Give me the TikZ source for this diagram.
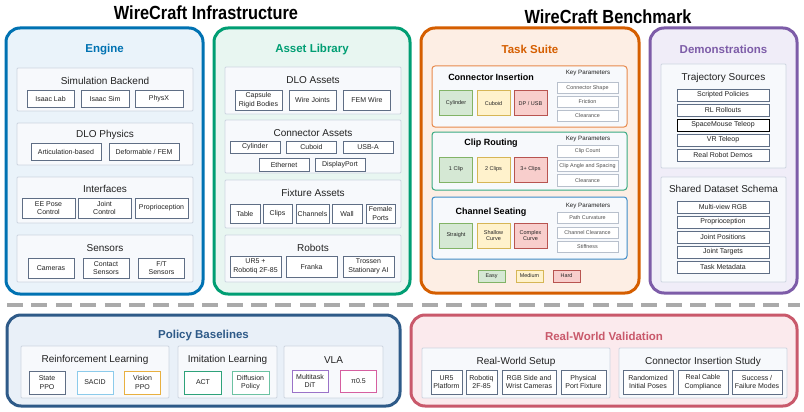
\documentclass[tikz,border=0pt]{standalone}
\usepackage{fontspec}
\setmainfont{Liberation Sans}
\usepackage{graphicx}
\usepackage{xcolor}
\usepackage{tikz}
\definecolor{engblue}{RGB}{0,114,178}
\definecolor{engfill}{RGB}{234,243,250}
\definecolor{assetgreen}{RGB}{0,158,115}
\definecolor{assetfill}{RGB}{232,246,241}
\definecolor{taskorange}{RGB}{213,94,0}
\definecolor{taskfill}{RGB}{253,238,228}
\definecolor{demopurple}{RGB}{125,92,168}
\definecolor{demofill}{RGB}{240,237,248}
\definecolor{policyblue}{RGB}{46,90,136}
\definecolor{policyfill}{RGB}{233,240,248}
\definecolor{realred}{RGB}{201,89,107}
\definecolor{realfill}{RGB}{251,234,237}
\definecolor{groupline}{RGB}{205,213,224}
\definecolor{groupfill}{RGB}{247,249,252}
\definecolor{itemline}{RGB}{95,110,133}
\definecolor{keyline}{RGB}{184,192,204}
\definecolor{insline}{RGB}{232,138,76}
\definecolor{clipline}{RGB}{58,170,130}
\definecolor{chanline}{RGB}{61,140,200}
\definecolor{easyfill}{RGB}{213,232,212}
\definecolor{easyline}{RGB}{130,179,102}
\definecolor{medfill}{RGB}{255,242,204}
\definecolor{medline}{RGB}{214,182,86}
\definecolor{hardfill}{RGB}{248,206,204}
\definecolor{hardline}{RGB}{184,84,80}
\definecolor{sacblue}{RGB}{140,203,235}
\definecolor{visorange}{RGB}{232,176,64}
\definecolor{actgreen}{RGB}{46,162,122}
\definecolor{diffgreen}{RGB}{108,194,162}
\definecolor{ditpurple}{RGB}{155,114,200}
\definecolor{pipink}{RGB}{214,95,160}
\definecolor{sepgray}{RGB}{170,170,170}
\definecolor{txt}{RGB}{34,34,34}
\tikzset{maintitle/.style={font=\fontsize{19}{22}\selectfont\bfseries, text=black}, panel/.style={rectangle, rounded corners=14pt, line width=3pt}, ptitle/.style={font=\fontsize{11.5}{13}\selectfont\bfseries}, group/.style={rectangle, rounded corners=1pt, draw=groupline, fill=groupfill, line width=0.8pt}, glabel/.style={font=\fontsize{10}{12}\selectfont, text=txt}, item/.style={rectangle, draw=itemline, fill=white, line width=0.9pt, align=center, inner sep=0pt, font=\fontsize{7}{8.4}\selectfont, text=txt}, tsub/.style={rectangle, rounded corners=3pt, fill=groupfill, line width=1pt}, tname/.style={font=\fontsize{9}{11}\selectfont\bfseries, text=black}, kplabel/.style={font=\fontsize{6.2}{7}\selectfont, text=txt}, kbox/.style={rectangle, draw=keyline, fill=white, line width=0.7pt, minimum width=61pt, minimum height=11.5pt, inner sep=0pt, font=\fontsize{5.4}{6}\selectfont, text=txt!80}, diff/.style={rectangle, line width=1pt, minimum width=33pt, minimum height=25pt, inner sep=0pt, align=center, font=\fontsize{5.5}{6.6}\selectfont, text=txt}, easy/.style={diff, fill=easyfill, draw=easyline}, medium/.style={diff, fill=medfill, draw=medline}, hard/.style={diff, fill=hardfill, draw=hardline}, legendbox/.style={rectangle, line width=0.8pt, minimum width=27pt, minimum height=12pt, inner sep=0pt, font=\fontsize{5.4}{6}\selectfont, text=txt}, sepline/.style={draw=sepgray, line width=3.5pt, dash pattern=on 16pt off 8.4pt}}

\begin{document}
\begin{tikzpicture}[x=1pt, y=-1pt]
\useasboundingbox (0,0) rectangle (804,412);
\node[maintitle] (infra-t) at (206,13) {\scalebox{0.86}[1]{WireCraft Infrastructure}};
\node[maintitle] (bench-t) at (608,17) {\scalebox{0.86}[1]{WireCraft Benchmark}};

\node[panel, draw=engblue, fill=engfill, minimum width=197pt, minimum height=266pt] (engine) at (104.5,161) {};
\node[ptitle, text=engblue] (engine-t) at (104.5,50) {Engine};
\node[group, minimum width=176pt, minimum height=43pt] (eng-sb) at (105,89.5) {};
\node[glabel] (eng-sb-l) at (105,81) {Simulation Backend};
\foreach \x/\w/\name [count=\i] in {50.5/47/{Isaac Lab},105/48/{Isaac Sim},159/48/PhysX} {\node[item, minimum width=\w pt, minimum height=17pt] (eng-sb-\i) at (\x,98.5) {\name};}
\node[group, minimum width=176pt, minimum height=42pt] (eng-dlo) at (105,144) {};
\node[glabel] (eng-dlo-l) at (105,135) {DLO Physics};
\foreach \x/\name [count=\i] in {66/{Articulation-based},144/{Deformable / FEM}} {\node[item, minimum width=70pt, minimum height=17pt] (eng-dlo-\i) at (\x,151.5) {\name};}
\node[group, minimum width=176pt, minimum height=46pt] (eng-if) at (105,200) {};
\node[glabel] (eng-if-l) at (105,189) {Interfaces};
\foreach \x/\name [count=\i] in {48.5/{EE Pose\\Control},104.5/{Joint\\Control},161.5/Proprioception} {\node[item, minimum width=53pt, minimum height=20pt] (eng-if-\i) at (\x,208) {\name};}
\node[group, minimum width=176pt, minimum height=47pt] (eng-sen) at (105,258.5) {};
\node[glabel] (eng-sen-l) at (105,248) {Sensors};
\foreach \x/\name [count=\i] in {51/Cameras,106/{Contact\\Sensors},161.5/{F/T\\Sensors}} {\node[item, minimum width=46pt, minimum height=20pt] (eng-sen-\i) at (\x,268) {\name};}

\node[panel, draw=assetgreen, fill=assetfill, minimum width=196pt, minimum height=266pt] (assets) at (312,161) {};
\node[ptitle, text=assetgreen] (assets-t) at (312,50) {Asset Library};
\node[group, minimum width=176pt, minimum height=47pt] (ast-dlo) at (313,90.5) {};
\node[glabel] (ast-dlo-l) at (313,80) {DLO Assets};
\foreach \x/\name [count=\i] in {258.5/{Capsule\\Rigid Bodies},312.5/{Wire Joints},367/{FEM Wire}} {\node[item, minimum width=47pt, minimum height=20pt] (ast-dlo-\i) at (\x,100) {\name};}
\node[group, minimum width=176pt, minimum height=53pt] (ast-con) at (313,146.5) {};
\node[glabel] (ast-con-l) at (313,133) {Connector Assets};
\foreach \x/\name [count=\i] in {255/Cylinder,311.5/Cuboid,368/USB-A} {\node[item, minimum width=50pt, minimum height=12pt] (ast-con-\i) at (\x,147) {\name};}
\foreach \x/\name [count=\i] in {284/Ethernet,340/DisplayPort} {\node[item, minimum width=50pt, minimum height=13pt] (ast-con-b\i) at (\x,164.5) {\name};}
\node[group, minimum width=176pt, minimum height=48pt] (ast-fix) at (313,204) {};
\node[glabel] (ast-fix-l) at (313,193) {Fixture Assets};
\foreach \x/\w/\name [count=\i] in {245/30/Table,277.5/29/Clips,312.5/33/Channels,347/30/Wall,380.5/29/{Female\\Ports}} {\node[item, minimum width=\w pt, minimum height=19pt] (ast-fix-\i) at (\x,213.5) {\name};}
\node[group, minimum width=176pt, minimum height=47pt] (ast-rob) at (313,258.5) {};
\node[glabel] (ast-rob-l) at (313,248) {Robots};
\foreach \x/\name [count=\i] in {255.5/{UR5 +\\Robotiq 2F-85},311.5/Franka,368.5/{Trossen\\Stationary AI}} {\node[item, minimum width=51pt, minimum height=21pt] (ast-rob-\i) at (\x,266.5) {\name};}

\node[panel, draw=taskorange, fill=taskfill, minimum width=218pt, minimum height=265pt] (tasks) at (530,160.5) {};
\node[ptitle, text=taskorange] (tasks-t) at (530,49) {Task Suite};
\node[tsub, draw=insline, minimum width=195pt, minimum height=61pt] (ins) at (529.5,96.5) {};
\node[tname] (ins-t) at (491,77) {Connector Insertion};
\node[kplabel] (ins-k) at (588,73) {Key Parameters};
\foreach \y/\name [count=\i] in {88/{Connector Shape},102/Friction,116/Clearance} {\node[kbox] (ins-k\i) at (587.5,\y) {\name};}
\node[easy] (ins-e) at (456,103.5) {Cylinder};
\node[medium] (ins-m) at (493.5,103.5) {Cuboid};
\node[hard] (ins-h) at (530.5,103.5) {DP / USB};
\node[tsub, draw=clipline, minimum width=195pt, minimum height=58pt] (clip) at (529.5,161) {};
\node[tname] (clip-t) at (491,143) {Clip Routing};
\node[kplabel] (clip-k) at (588,139) {Key Parameters};
\foreach \y/\name [count=\i] in {151.5/{Clip Count},166/{Clip Angle and Spacing},180.5/Clearance} {\node[kbox] (clip-k\i) at (587.5,\y) {\name};}
\node[easy] (clip-e) at (456,169.5) {1 Clip};
\node[medium] (clip-m) at (493.5,169.5) {2 Clips};
\node[hard] (clip-h) at (530.5,169.5) {3+ Clips};
\node[tsub, draw=chanline, minimum width=195pt, minimum height=62pt] (chan) at (529.5,228) {};
\node[tname] (chan-t) at (491,212) {Channel Seating};
\node[kplabel] (chan-k) at (588,206) {Key Parameters};
\foreach \y/\name [count=\i] in {218/{Path Curvature},233/{Channel Clearance},247/Stiffness} {\node[kbox] (chan-k\i) at (587.5,\y) {\name};}
\node[easy] (chan-e) at (456,235.5) {Straight};
\node[medium] (chan-m) at (493.5,235.5) {Shallow\\Curve};
\node[hard] (chan-h) at (530.5,235.5) {Complex\\Curve};
\node[legendbox, fill=easyfill, draw=easyline] (leg-e) at (491.5,276) {Easy};
\node[legendbox, fill=medfill, draw=medline] (leg-m) at (529.5,276) {Medium};
\node[legendbox, fill=hardfill, draw=hardline] (leg-h) at (566.5,276) {Hard};

\node[panel, draw=demopurple, fill=demofill, minimum width=147pt, minimum height=265pt] (demos) at (723.5,160.5) {};
\node[ptitle, text=demopurple] (demos-t) at (723.5,49) {Demonstrations};
\node[group, minimum width=125pt, minimum height=104pt] (dem-src) at (723.5,116) {};
\node[glabel] (dem-src-l) at (723.5,78) {Trajectory Sources};
\foreach \name/\c [count=\i] in {{Scripted Policies}/itemline,{RL Rollouts}/itemline,{SpaceMouse Teleop}/black,{VR Teleop}/itemline,{Real Robot Demos}/itemline} {\node[item, draw=\c, minimum width=92pt, minimum height=12pt] (dem-src-\i) at (723,80+15*\i) {\name};}
\node[group, minimum width=125pt, minimum height=105pt] (dem-sch) at (723.5,229.5) {};
\node[glabel] (dem-sch-l) at (723.5,189) {Shared Dataset Schema};
\foreach \name [count=\i] in {{Multi-view RGB},Proprioception,{Joint Positions},{Joint Targets},{Task Metadata}} {\node[item, minimum width=92pt, minimum height=12pt] (dem-sch-\i) at (723,192+15*\i) {\name};}

\draw[sepline] (7,305) -- (800,305);

\node[panel, draw=policyblue, fill=policyfill, minimum width=393pt, minimum height=91pt] (policy) at (203.5,360.5) {};
\node[ptitle, text=policyblue] (policy-t) at (203.5,336) {Policy Baselines};
\node[group, minimum width=148pt, minimum height=52pt] (pol-rl) at (95,372) {};
\node[glabel] (pol-rl-l) at (95,360) {Reinforcement Learning};
\foreach \x/\c/\name [count=\i] in {47/itemline/{State\\PPO},95/sacblue/SACID,142.5/visorange/{Vision\\PPO}} {\node[item, draw=\c, minimum width=36pt, minimum height=23pt] (pol-rl-\i) at (\x,382.5) {\name};}
\node[group, minimum width=99pt, minimum height=52pt] (pol-il) at (227.5,372) {};
\node[glabel] (pol-il-l) at (227.5,360) {Imitation Learning};
\foreach \x/\c/\name [count=\i] in {203/actgreen/ACT,250.5/diffgreen/{Diffusion\\Policy}} {\node[item, draw=\c, minimum width=37pt, minimum height=23pt] (pol-il-\i) at (\x,382.5) {\name};}
\node[group, minimum width=99pt, minimum height=52pt] (pol-vla) at (333.5,372) {};
\node[glabel] (pol-vla-l) at (333.5,360) {VLA};
\foreach \x/\c/\name [count=\i] in {310/ditpurple/{Multitask\\DiT},358.5/pipink/{π0.5}} {\node[item, draw=\c, minimum width=36pt, minimum height=22pt] (pol-vla-\i) at (\x,381) {\name};}

\node[panel, draw=realred, fill=realfill, minimum width=386pt, minimum height=91pt] (real) at (604,360.5) {};
\node[ptitle, text=realred] (real-t) at (604,336) {Real-World Validation};
\node[group, minimum width=188pt, minimum height=50pt] (rw-set) at (516,373) {};
\node[glabel] (rw-set-l) at (516,362) {Real-World Setup};
\foreach \x/\w/\name [count=\i] in {446.5/31/{UR5\\Platform},481.5/31/{Robotiq\\2F-85},529/54/{RGB Side and\\Wrist Cameras},583.5/45/{Physical\\Port Fixture}} {\node[item, minimum width=\w pt, minimum height=24pt] (rw-set-\i) at (\x,382) {\name};}
\node[group, minimum width=168pt, minimum height=50pt] (rw-ci) at (703,373) {};
\node[glabel] (rw-ci-l) at (703,362) {Connector Insertion Study};
\foreach \x/\name [count=\i] in {648/{Randomized\\Initial Poses},703/{Real Cable\\Compliance},757/{Success /\\Failure Modes}} {\node[item, minimum width=50pt, minimum height=24pt] (rw-ci-\i) at (\x,382) {\name};}
\end{tikzpicture}
\end{document}
